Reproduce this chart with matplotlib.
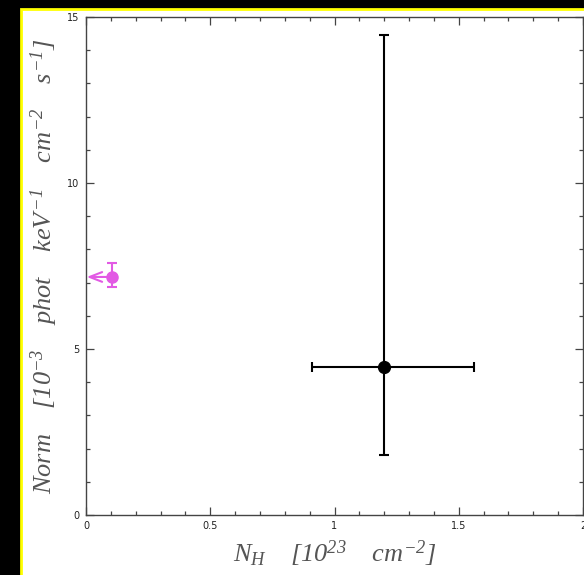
import matplotlib
matplotlib.use("Agg")
import matplotlib.pyplot as plt
from matplotlib.patches import Rectangle
from matplotlib.ticker import MultipleLocator

plt.rcParams['mathtext.fontset'] = 'custom'
plt.rcParams['mathtext.rm'] = 'Liberation Serif:italic'
plt.rcParams['mathtext.it'] = 'Liberation Serif:italic'

# Data
nh_black = [1.2]
norm_black = [4.46]
nh_err_lo = [0.29]
nh_err_hi = [0.36]
norm_err_lo = [2.65]
norm_err_hi = [10.0]

nh_mag = [0.105]
norm_mag = [7.17]
norm_mag_err_lo = [0.30]
norm_mag_err_hi = [0.42]

xticks = [0, 0.5, 1, 1.5, 2]
xticklabels = ["0", "0.5", "1", "1.5", "2"]
yticks = [0, 5, 10, 15]
yticklabels = ["0", "5", "10", "15"]

W, H = 584, 575
fig = plt.figure(figsize=(W / 100, H / 100), dpi=100, facecolor='black')
# white panel with yellow border
fig.patches.append(Rectangle((21 / W, -0.1), 1.2, 1 - 8.5 / H + 0.1, transform=fig.transFigure,
                             facecolor='white', edgecolor='#ffff00', linewidth=2.0, zorder=-10))

ax = fig.add_axes([86 / W, (H - 515) / H, 497 / W, 498 / H])
ax.set_facecolor('white')
ax.set_xlim(0, 2)
ax.set_ylim(0, 15)

gray = '#444444'
for s in ax.spines.values():
    s.set_color(gray)
    s.set_linewidth(1.0)

ax.set_xticks(xticks)
ax.set_xticklabels(xticklabels)
ax.set_yticks(yticks)
ax.set_yticklabels(yticklabels)
ax.xaxis.set_minor_locator(MultipleLocator(0.1))
ax.yaxis.set_minor_locator(MultipleLocator(1))
ax.tick_params(which='both', direction='in', top=True, right=True, colors=gray,
               labelsize=7, labelcolor='#222222')
ax.tick_params(which='major', length=5.5, width=0.9)
ax.tick_params(which='minor', length=3, width=0.9)
ax.tick_params(axis='x', pad=4)
ax.tick_params(axis='y', pad=5)

ax.errorbar(nh_black, norm_black, xerr=[nh_err_lo, nh_err_hi], yerr=[norm_err_lo, norm_err_hi],
            fmt='o', color='black', ecolor='black', markersize=8.5, elinewidth=1.5,
            capsize=3.5, capthick=1.5, zorder=3)

mag = '#e25ae4'
ax.errorbar(nh_mag, norm_mag, yerr=[norm_mag_err_lo, norm_mag_err_hi], fmt='o', color=mag,
            ecolor=mag, markersize=8, elinewidth=1.5, capsize=3.5, capthick=1.5, zorder=3)
ax.annotate('', xy=(0.003, norm_mag[0]), xytext=(nh_mag[0], norm_mag[0]),
            arrowprops=dict(arrowstyle='->,head_length=0.9,head_width=0.35', color=mag, lw=1.5,
                            shrinkA=0, shrinkB=0), zorder=3)

ax.set_xlabel(r'$N_H\ \ \ \ [10^{23}\ \ \ \ cm^{-2}]$', fontsize=19, color='#555555', labelpad=6)
ax.set_ylabel(r'$Norm\ \ \ \ [10^{-3}\ \ \ \ phot\ \ \ \ keV^{-1}\ \ \ \ cm^{-2}\ \ \ \ s^{-1}]$',
              fontsize=19, color='#555555', labelpad=5)

fig.savefig('out.png', dpi=100, facecolor='black')
